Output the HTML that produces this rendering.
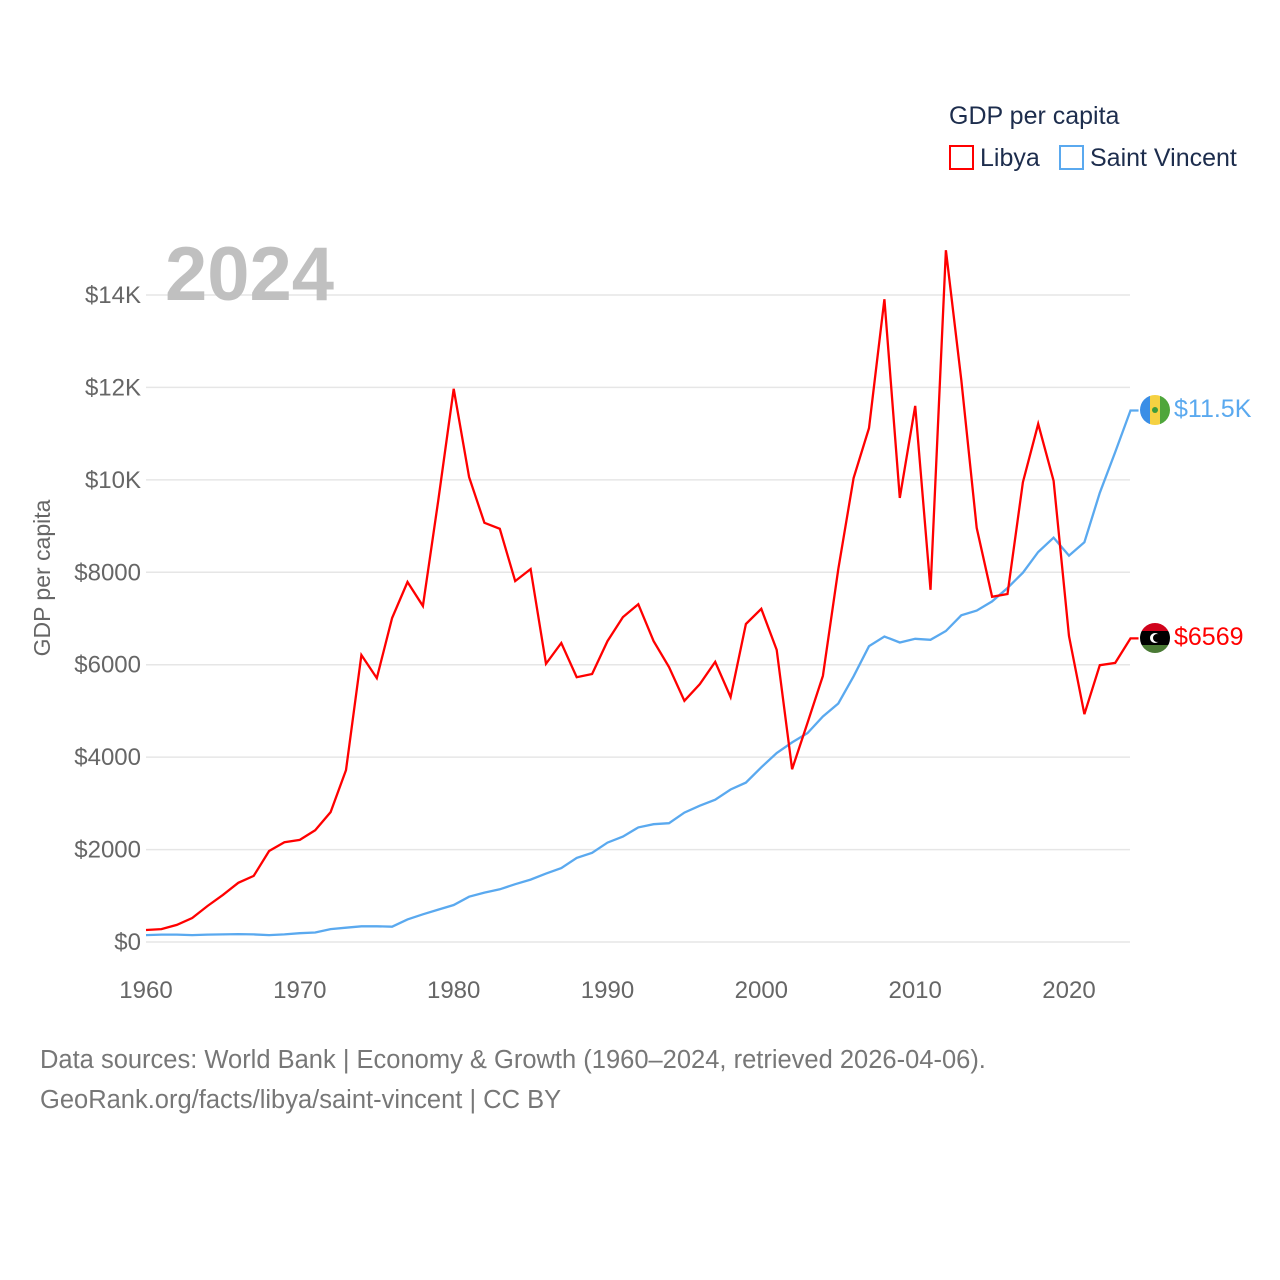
<!DOCTYPE html>
<html><head><meta charset="utf-8"><style>
body{margin:0;background:#fff;}
svg{display:block;font-family:"Liberation Sans",sans-serif;}
</style></head><body>
<svg id="chart" width="1280" height="1280" viewBox="0 0 1280 1280">
<rect width="1280" height="1280" fill="#fff"/>
<g id="grid"></g>
<g id="yticks"></g>
<g id="xticks"></g>
<text x="165" y="300" font-size="76" font-weight="bold" fill="#c0c0c0">2024</text>
<text transform="translate(50,578) rotate(-90)" text-anchor="middle" font-size="23" fill="#666">GDP per capita</text>
<g id="series"></g>
<g>
<text x="949" y="124" font-size="25" fill="#1d2d4d">GDP per capita</text>
<g><rect x="950" y="146" width="23" height="23" fill="none" stroke="#f00" stroke-width="2"/><text x="980" y="166" font-size="25" fill="#1d2d4d">Libya</text></g>
<g><rect x="1060" y="146" width="23" height="23" fill="none" stroke="#5aa9ef" stroke-width="2"/><text x="1090" y="166" font-size="25" fill="#1d2d4d">Saint Vincent</text></g>
</g>
<g><clipPath id="c1"><circle cx="1155" cy="410" r="15"/></clipPath><g clip-path="url(#c1)"><rect x="1140" y="395" width="10" height="30" fill="#3a8ee6"/><rect x="1150" y="395" width="10" height="30" fill="#f5d142"/><rect x="1160" y="395" width="10" height="30" fill="#4fa63b"/><circle cx="1155" cy="410" r="3" fill="#3c9a3c"/></g></g>
<g><clipPath id="c2"><circle cx="1155" cy="638" r="15"/></clipPath><g clip-path="url(#c2)"><rect x="1140" y="623" width="30" height="8" fill="#d0021b"/><rect x="1140" y="631" width="30" height="14" fill="#000"/><rect x="1140" y="645" width="30" height="8" fill="#4a7a35"/><circle cx="1155" cy="638" r="5" fill="#fff"/><circle cx="1157" cy="638" r="4" fill="#000"/></g></g>
<text x="1174" y="417" font-size="25" fill="#5aa9ef">$11.5K</text>
<text x="1174" y="645" font-size="25" fill="#f00">$6569</text>
<text x="40" y="1068" font-size="25.5" fill="#777">Data sources: World Bank | Economy &amp; Growth (1960–2024, retrieved 2026-04-06).</text>
<text x="40" y="1108" font-size="25.5" fill="#777">GeoRank.org/facts/libya/saint-vincent | CC BY</text>
</svg>
<script>
const years=[];for(let y=1960;y<=2024;y++)years.push(y);
const libya=[260,280,370,520,780,1020,1280,1430,1970,2160,2210,2420,2810,3720,6210,5710,7010,7790,7270,9560,11970,10060,9070,8940,7810,8070,6020,6470,5730,5800,6510,7030,7310,6510,5950,5220,5580,6060,5300,6880,7210,6320,3740,4740,5760,8070,10040,11120,13910,9610,11600,7620,14970,12160,8960,7470,7530,9950,11210,9980,6620,4930,5990,6040,6569];
const stvincent=[150,160,160,150,160,165,170,165,150,165,190,205,280,310,340,340,330,490,600,700,800,980,1070,1140,1250,1350,1480,1600,1820,1930,2150,2280,2480,2550,2570,2800,2950,3080,3300,3450,3780,4090,4320,4520,4880,5160,5750,6400,6610,6480,6560,6540,6730,7070,7170,7370,7660,7990,8440,8750,8360,8650,9720,10600,11500];
const yTicks=[0,2000,4000,6000,8000,10000,12000,14000];
const yTickLabels=["$0","$2000","$4000","$6000","$8000","$10K","$12K","$14K"];
const xTicks=[1960,1970,1980,1990,2000,2010,2020];
const NS="http://www.w3.org/2000/svg";
const X=y=>146+(y-1960)*(923/60);
const Y=v=>942-v*(647/14000);
function mk(tag,attrs,parent){const e=document.createElementNS(NS,tag);for(const k in attrs)e.setAttribute(k,attrs[k]);parent.appendChild(e);return e;}
const grid=document.getElementById('grid'),yt=document.getElementById('yticks'),xt=document.getElementById('xticks'),ser=document.getElementById('series');
yTicks.forEach((v,i)=>{
 const l=mk('line',{x1:146,x2:1130,y1:Y(v),y2:Y(v),stroke:'#e6e6e6','stroke-width':1.5},grid);
 
 
 const t=mk('text',{x:141,y:Y(v)+8,'text-anchor':'end','font-size':24,fill:'#666'},yt);
 t.textContent=yTickLabels[i];
 
 
});
xTicks.forEach(v=>{
 const t=mk('text',{x:X(v),y:998,'text-anchor':'middle','font-size':24,fill:'#666'},xt);
 t.textContent=v;
 
 
});
function line(vals,color,name){
 let d=vals.map((v,i)=>(i?'L':'M')+X(years[i]).toFixed(1)+','+Y(v).toFixed(1)).join('');
 d+='H'+(X(2024)+8);
 const p=mk('path',{d:d,fill:'none',stroke:color,'stroke-width':2.3,'stroke-linejoin':'miter'},ser);
 
 
}
line(stvincent,'#5aa9ef','line-saint-vincent');
line(libya,'#f00','line-libya');
</script>
</body></html>
